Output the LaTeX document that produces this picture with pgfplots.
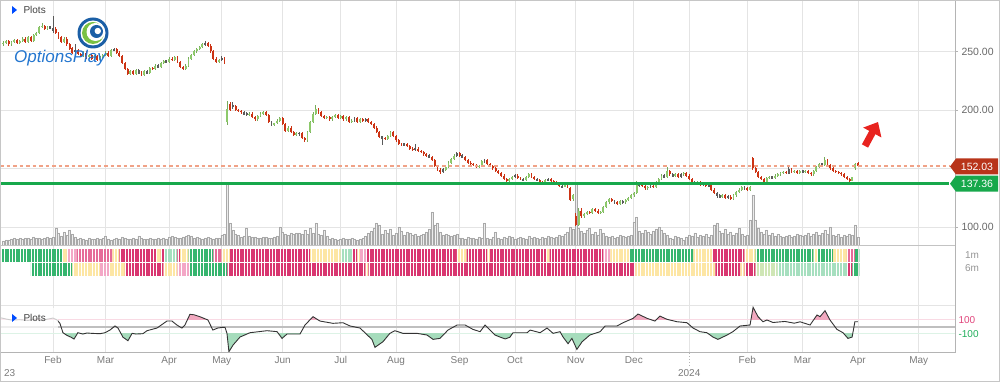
\documentclass[border=0pt]{standalone}
\usepackage{pgfplots}
\pgfplotsset{compat=1.18}
\usepackage{pgfplotstable}
\usetikzlibrary{patterns.meta,arrows.meta}
\usepackage{fontspec}
\setmainfont{Liberation Sans}
\definecolor{gridgray}{HTML}{E4E4E4}
\definecolor{axgray}{HTML}{B4B4B4}
\definecolor{labgray}{HTML}{7A7A7A}
\definecolor{upc}{HTML}{8DC96B}
\definecolor{dnc}{HTML}{CC3314}
\definecolor{djc}{HTML}{5A5A5A}
\definecolor{volfill}{HTML}{ECECEC}
\definecolor{volline}{HTML}{A9A9A9}
\definecolor{dashc}{HTML}{F0A287}
\definecolor{supc}{HTML}{17A84B}
\definecolor{redbox}{HTML}{B8341A}
\definecolor{sg}{HTML}{35B56E}
\definecolor{slg}{HTML}{A6DFBF}
\definecolor{sy}{HTML}{FDE6A4}
\definecolor{sp}{HTML}{F3A7C6}
\definecolor{sc}{HTML}{D93670}
\definecolor{sm}{HTML}{E66B98}
\definecolor{slgy}{HTML}{CFE6B5}
\definecolor{ccipink}{HTML}{F2A9C0}
\definecolor{ccigreen}{HTML}{A6DCBC}
\definecolor{cpink}{HTML}{E0457B}
\definecolor{cgreen}{HTML}{1FAE5A}
\definecolor{logoblue}{HTML}{1B5FA6}
\definecolor{logogreen}{HTML}{7AC143}
\definecolor{textblue}{HTML}{2476CF}
\definecolor{arrowred}{HTML}{E8231F}

\pgfplotstableread{
i o h l c k
-18 256 259 255 257 1
-17 257 260 256 259 1
-16 259 260 255 256 -1
-15 256 259 255 258 1
-14 258 261 257 260 1
-13 260 261 256 257 -1
-12 257 260 256 259 1
-11 259 262 258 261 1
-10 261 262 257 258 -1
-9 258 263 257 262 1
-8 262 263 258 259 -1
-7 259 265 258 264 1
-6 264 267 263 266 1
-5 266 272 265 271 1
-4 271 274 270 272 1
-3 272 273 268 269 -1
-2 269 272 268 271 1
-1 271 272 269 270 0
0 270 280 266 268 0
1 269 271 265 266 -1
2 266 267 261 262 -1
3 262 263 257 258 -1
4 258 262 257 261 1
5 261 262 255 256 -1
6 256 257 251 252 -1
7 253 254 248 249 -1
8 250 256 249 251 0
9 251 252 247 248 -1
10 248 249 245 246 -1
11 246 250 245 249 1
12 249 250 244 245 -1
13 245 248 244 247 1
14 247 248 243 244 -1
15 244 247 243 246 1
16 246 247 242 243 -1
17 243 246 242 245 1
18 245 248 244 247 1
19 247 250 246 249 1
20 249 250 245 246 -1
21 246 252 245 251 1
22 251 253 250 252 0
23 252 253 248 249 -1
24 249 250 245 246 -1
25 246 247 239 240 -1
26 240 241 234 235 -1
27 235 236 230 231 -1
28 231 234 230 233 1
29 233 234 230 231 -1
30 231 235 230 234 1
31 234 235 231 232 0
32 232 233 229 230 -1
33 230 234 229 233 1
34 233 234 231 232 0
35 232 237 231 236 1
36 236 237 234 235 -1
37 235 239 234 238 1
38 238 239 236 237 0
39 237 241 236 240 1
40 240 243 239 242 1
41 242 243 240 241 0
42 241 245 240 244 1
43 244 245 242 243 -1
44 243 246 242 245 1
45 245 246 240 241 -1
46 241 242 236 237 -1
47 237 238 234 235 -1
48 235 239 234 238 1
49 238 245 237 244 1
50 244 248 243 247 1
51 247 251 246 250 1
52 250 253 249 252 1
53 252 255 251 254 1
54 254 257 253 256 1
55 256 259 255 257 0
56 257 258 254 255 -1
57 255 256 249 250 -1
58 250 251 243 244 -1
59 244 245 240 241 -1
60 241 244 240 243 1
61 243 246 242 244 0
62 244 245 239 240 -1
63 189.5 208 187 201 1
64 205 207 199 200 -1
65 203 207 201 203.5 0
66 203 204 199 200 -1
67 200 201 198 199 -1
68 199 200 197 198 -1
69 198 199 196 197 0
70 197 198 195 196.5 0
71 196 198 195 197 1
72 197 198 193 194 -1
73 194 195 191 192 -1
74 192 196 191 195 1
75 195 198 194 197 1
76 197 199 196 198 1
77 198 199 195 196 -1
78 196 197 189 190 -1
79 190 191 186 187 0
80 187 189 186 188.5 1
81 188.5 192 188 191 1
82 191 194 190 193 1
83 193 194 187 188 -1
84 188 189 181 182 -1
85 182 186 181 185 1
86 185 186 180 181 -1
87 181 182 178 179 -1
88 179 181 178 180 1
89 180 181 178 180 0
90 180 181 175 176 -1
91 176 177 173 174 -1
92 174 182 173 181 1
93 181 191 180 190 1
94 190 198 189 197 1
95 197 204 196 201 1
96 201 202 197 198 -1
97 198 199 194 195 -1
98 195 196 192 193 -1
99 193 195 192 194 1
100 194 195 191 192 -1
101 192 195 191 194 1
102 194 197 193 196 1
103 196 197 192 193 -1
104 193 196 192 195 1
105 195 196 191 192 -1
106 192 195 191 194 1
107 194 195 189 190 -1
108 190 192 189 191 1
109 191 194 190 193 0
110 193 194 189 190 -1
111 190 193 189 192 1
112 192 193 190 191 -1
113 191 193 190 192 0
114 192 193 189 190 -1
115 190 191 187 188 -1
116 188 189 184 185 -1
117 185 186 180 181 -1
118 181 182 176 177 -1
119 177 178 170 176 0
120 176 177 174 175 -1
121 175 179 174 178 1
122 178 182 177 181 1
123 181 182 177 178 -1
124 178 179 173 174 -1
125 174 175 170 171 -1
126 171 172 169 170 -1
127 170 172 169 171 0
128 171 172 168 169 -1
129 169 170 166 167 -1
130 167 168 165 166 -1
131 166 171 165 167 0
132 167 168 164 165 -1
133 165 166 163 164 -1
134 164 165 161 162 -1
135 162 163 160 161 -1
136 161 162 159 160 0
137 160 161 156 157 -1
138 157 158 151 152 -1
139 152 153 148 149 -1
140 149 150 145 147 -1
141 147 150 146 149 0
142 149 152 148 151 1
143 151 156 150 155 1
144 155 159 154 158 1
145 158 162 157 161 1
146 161 164 160 163 0
147 163 164 160 161 -1
148 161 162 159 160 0
149 160 161 156 157 -1
150 157 158 154 155 -1
151 155 156 153 154 -1
152 154 155 152 153 -1
153 153 154 150 151 -1
154 151 153 150 152 1
155 152 157 151 156 1
156 156 158 155 157 0
157 157 158 153 154 -1
158 154 155 151 152 -1
159 152 153 149 150 -1
160 150 151 147 148 -1
161 148 149 145 146 -1
162 146 147 143 144 -1
163 144 145 140 141 -1
164 141 142 138 139 -1
165 139 142 138 141 1
166 141 144 140 143 1
167 143 145 142 144 0
168 144 145 141 142 -1
169 142 143 140 141 -1
170 141 142 139 140 0
171 140 144 139 143 1
172 143 146 142 145 1
173 145 146 142 143 -1
174 143 144 140 141 -1
175 141 142 139 140 0
176 140 141 137 138 -1
177 138 139 136 137 -1
178 137 141 136 140 1
179 140 142 139 141 0
180 141 142 138 139 -1
181 139 140 137 138 -1
182 138 139 136 137 -1
183 137 138 134 135 -1
184 135 137 134 134.5 0
185 134.5 137 134 136 1
186 136 137 133 134 -1
187 133 134 122 123 -1
188 124 128 122 127 1
189 109 112 100.5 102 -1
190 102 116 101 114 1
191 114 116 108 109 -1
192 109 112 108 111 1
193 111 114 110 113 1
194 113 114 111 112 -1
195 112 116 111 115 1
196 115 116 113 114 -1
197 114 115 111 112 -1
198 112 114 111 113 1
199 113 118 112 117 1
200 117 122 116 121 1
201 121 125 120 124 1
202 124 125 121 122 -1
203 122 123 120 121 0
204 121 122 119 120 -1
205 120 123 119 122 1
206 122 123 120 121 0
207 121 124 120 123 1
208 123 126 122 125 1
209 125 128 124 127 1
210 127 130 126 129 1
211 129 139 128 136 1
212 136 138 134 136 0
213 136 137 134 135 -1
214 135 136 132 133 -1
215 133 135 132 134 1
216 134 136 133 135 0
217 135 136 133 134 -1
218 134 139 133 138 1
219 138 142 137 141 1
220 141 145 140 144 1
221 144 145 142 143 0
222 143 151 142 148 1
223 148 149 144 145 -1
224 145 146 143 144 0
225 144 146 143 145 1
226 145 146 142 143 -1
227 143 146 142 145 0
228 145 147 144 146 1
229 146 147 143 144 -1
230 144 145 140 141 -1
231 141 142 137 138 -1
232 138 139 136 137 0
233 137 139 136 138 1
234 138 139 135 136 -1
235 136 138 135 137 0
236 137 138 134 135 -1
237 135 137 134 136 0
238 136 137 131 132 -1
239 132 133 128 129 -1
240 129 130 125 127 0
241 127 128 125 126 0
242 126 128 125 127 1
243 127 128 124 125 -1
244 125 127 124 126 0
245 126 127 123 124 -1
246 124 128 123 127 1
247 127 131 126 130 1
248 130 133 129 132 1
249 132 135 131 134 1
250 134 135 132 133 0
251 133 134 131 132 -1
252 132 135 131 134 1
253 159 160 149 150 -1
254 150 151 146 147 -1
255 147 148 142 143 -1
256 143 144 140 141 -1
257 141 142 137 138 -1
258 138 143 137 142 1
259 142 144 141 143 1
260 143 144 141 142 0
261 142 145 141 144 1
262 144 146 143 145 1
263 145 147 144 146 1
264 146 148 145 147 1
265 147 148 145 146 -1
266 146 151 145 149 0
267 149 150 146 147 -1
268 147 149 146 148 1
269 148 149 145 146 -1
270 146 149 145 148 1
271 148 149 146 147 0
272 147 149 146 148 1
273 148 149 145 146 -1
274 146 147 144 145 -1
275 145 149 144 148 1
276 148 152 147 151 1
277 151 155 150 154 1
278 154 155 152 153 0
279 153 160 152 157 1
280 157 158 152 153 -1
281 153 154 149 150 -1
282 150 151 147 148 -1
283 148 149 146 147 -1
284 147 148 145 146 -1
285 146 147 144 145 -1
286 145 146 142 143 -1
287 143 144 140 141 -1
288 141 142 138 139 -1
289 139.5 143 139 142.5 1
290 150 155 148.5 154 1
291 154.5 155.5 151.5 152.03 -1
}\candles

\pgfplotstableread{
x y
-19.2 130
-17 110
-15 95
-12 100
-9 90
-7 105
-5 115
-3.6 96
-1 115
0 124
1.5 95
2.5 48
3.6 -86
5.1 -125
6.5 -150
7.6 -176
9 -86
10.8 -105
12.3 -90
14 -95
17 -100
18.8 -86
20.6 -48
22.4 10
23.5 -19
25.3 -150
27.1 -200
28.6 -95
30 -105
32.5 -100
34 -57
37.6 -19
41.2 81
43 81
44.8 24
46.6 -19
47.7 24
49.5 177
51 170
53.1 143
56 96
57.8 -48
59.5 -20
61.1 -10
62.2 -10
62.9 -95
63.6 -357
65.1 -262
67.6 -148
71.2 -86
77.4 -57
81 -71
82.8 -167
84.6 -105
89.3 -105
91.1 24
94 143
96.5 81
101.2 48
104.8 57
107.4 10
111 -19
113.5 -114
115.3 -181
116.4 -295
119.3 -214
121.8 -95
123.6 -57
126.5 -95
131.6 -95
135.2 -119
137.4 -181
139.9 -167
142.8 -48
146.1 24
149 24
151.8 -38
154.4 -71
156.2 24
159.8 -119
161.6 -148
163.5 -175
165.2 -150
166.3 -86
169 -86
171.4 -86
172.5 -48
176.1 -86
178.6 -19
180.8 -95
183.3 -71
184.4 -148
186.2 -243
187.6 -167
189.4 -324
191.3 -214
194.1 -119
197.8 -71
199.6 10
203.9 10
206.1 57
209.7 119
211.5 181
214.8 119
217.6 81
219.4 152
222 105
225.6 71
229.2 57
231.4 -19
233.9 -71
236.4 -86
238.6 -148
240.4 -181
243.7 -119
245.8 -71
248.4 10
252 24
253.1 277
254.9 143
256.7 71
258.1 96
260.3 60
264.6 75
268 50
270.1 70
273.7 24
276.2 167
277.3 143
279.1 229
280.9 96
283.4 -38
285.6 -86
287.4 -167
288.9 -148
289.9 71
291 71
}\cci

\newcommand\stripA[3]{\addplot[draw=none, pattern={Lines[angle=90,distance=2.766pt,line width=2pt]}, pattern color=#3] coordinates {(#1,21) (#2,21) (#2,33) (#1,33)};}
\newcommand\stripB[3]{\addplot[draw=none, pattern={Lines[angle=90,distance=2.766pt,line width=2pt]}, pattern color=#3] coordinates {(#1,7) (#2,7) (#2,19) (#1,19)};}

\pgfplotsset{
  base/.style={scale only axis, width=955pt, xmin=-19.16, xmax=326.1, anchor=south west,
    axis line style={draw=none}, xtick={0,19,42,61,83,104,124,147,167,189,210,230,251,271,291,313},
    xticklabels={}, yticklabels={}, tick style={draw=none},
    grid style={draw=gridgray, line width=0.8pt},
    tick label style={font=\fontsize{10}{12}\selectfont, text=labgray}},
  wick/.style={draw=none, mark=none, error bars/.cd, y dir=both, y explicit, error mark=none,
    error bar style={draw=#1, line width=0.7pt}},
  body/.style={draw=none, mark=none, error bars/.cd, y dir=both, y explicit, error mark=none,
    error bar style={draw=#1, line width=1.9pt}},
}

\begin{document}
\begin{tikzpicture}[x=1pt,y=1pt]
\useasboundingbox (0,0) rectangle (1000,382);

% ---------- volume (with grid) ----------
\begin{axis}[base, at={(0pt,137pt)}, height=245pt, ymin=0, ymax=245,
  xmajorgrids, ymajorgrids, ytick={18,76.5,135,193.5}]
\addplot[ybar, bar width=2pt, bar shift=0pt, fill=volfill, draw=volline, line width=0.4pt] coordinates {
(-18,4)(-17,5)(-16,5)(-15,6)(-14,7)(-13,6)(-12,7)(-11,6)(-10,7)(-9,7)(-8,6)(-7,8)(-6,7)(-5,7)(-4,6)(-3,7)(-2,8)(-1,7)
(0,8)(1,17)(2,12)(3,9)(4,13)(5,10)(6,15)(7,11)(8,8)
(9,6)(10,7)(11,6)(12,5)(13,7)(14,6)(15,6)(16,7)(17,6)(18,7)(19,9)(20,6)(21,5)(22,6)(23,7)(24,6)(25,8)(26,7)(27,6)(28,6)(29,7)(30,6)(31,9)(32,7)(33,6)(34,6)(35,7)(36,6)(37,6)(38,7)(39,6)(40,7)(41,6)(42,8)(43,9)(44,8)(45,7)(46,7)(47,8)(48,9)(49,10)(50,9)(51,7)(52,8)(53,7)(54,6)(55,7)(56,8)(57,7)(58,6)(59,7)(60,7)
(61,10)(62,11)(63,62)(64,22)(65,15)(66,11)(67,10)(68,8)(69,9)(70,17)(71,9)(72,8)(73,8)(74,7)(75,7)(76,8)(77,8)(78,7)(79,7)(80,8)(81,9)(82,18)(83,13)(84,11)(85,10)(86,12)(87,11)(88,12)(89,12)(90,11)(91,15)(92,11)(93,17)(94,12)(95,22)(96,11)(97,10)(98,15)(99,9)
(100,6)(101,7)(102,6)(103,5)(104,6)(105,7)(106,6)(107,6)(108,7)(109,6)(110,5)(111,6)(112,7)(113,9)(114,12)(115,14)(116,17)(117,22)(118,20)(119,11)(120,15)(121,12)(122,16)(123,10)(124,12)(125,18)(126,14)(127,10)(128,13)(129,12)(130,10)(131,11)(132,9)(133,10)(134,11)(135,13)(136,16)(137,33)(138,20)(139,22)(140,13)(141,10)(142,11)(143,10)(144,9)(145,10)(146,11)
(147,7)(148,7)(149,6)(150,8)(151,7)(152,7)(153,6)(154,8)(155,7)(156,22)(157,7)(158,6)(159,8)(160,13)(161,7)(162,6)(163,8)(164,7)(165,9)(166,8)(167,6)(168,7)(169,8)(170,7)(171,6)(172,9)(173,7)(174,8)(175,7)(176,6)(177,8)(178,7)(179,9)(180,8)(181,7)(182,8)(183,10)(184,9)(185,11)
(186,13)(187,18)(188,16)(189,62)(190,17)(191,14)(192,12)(193,15)(194,17)(195,11)(196,13)(197,10)(198,16)(199,12)(200,9)(201,8)(202,9)(203,7)(204,8)(205,10)(206,9)(207,8)(208,9)(209,10)(210,23)(211,28)(212,14)(213,12)(214,15)(215,13)(216,11)(217,14)(218,16)(219,18)(220,15)(221,12)(222,10)(223,7)(224,6)(225,9)(226,8)(227,7)(228,5)(229,8)(230,10)(231,9)(232,12)(233,8)(234,10)(235,9)(236,11)(237,8)(238,10)(239,20)(240,22)(241,14)(242,12)(243,16)(244,11)(245,13)(246,10)(247,12)(248,17)(249,11)(250,9)(251,10)(252,25)(253,50)(254,25)(255,17)(256,13)(257,11)(258,15)(259,10)(260,12)(261,9)(262,11)(263,9)(264,8)(265,9)(266,10)(267,8)(268,9)(269,11)(270,10)(271,9)(272,10)(273,12)(274,9)(275,11)(276,13)(277,10)(278,12)(279,15)(280,11)(281,18)(282,10)(283,9)(284,11)(285,8)(286,10)(287,9)(288,11)(289,10)(290,20)(291,8)
};
\end{axis}

% ---------- price / candles ----------
\begin{axis}[base, at={(0pt,137pt)}, height=245pt, ymin=84.62, ymax=294.02,
  ytick={100,200,250}, yticklabels={100.00,200.00,250.00}, yticklabel pos=right, ytick pos=right,
  ytick style={draw=axgray, line width=0.6pt}, major tick length=3pt, tick align=outside,
  yticklabel style={font=\fontsize{10.5}{12}\selectfont, text=labgray!85!black}]
% wicks
\addplot[restrict expr to domain={\thisrow{k}}{0.5:1.5}, wick=upc!85!black]
  table[x=i, y=c, y error plus expr={\thisrow{h}-\thisrow{c}}, y error minus expr={\thisrow{c}-\thisrow{l}}] {\candles};
\addplot[restrict expr to domain={\thisrow{k}}{-1.5:-0.5}, wick=dnc]
  table[x=i, y=c, y error plus expr={\thisrow{h}-\thisrow{c}}, y error minus expr={\thisrow{c}-\thisrow{l}}] {\candles};
\addplot[restrict expr to domain={\thisrow{k}}{-0.5:0.5}, wick=djc]
  table[x=i, y=c, y error plus expr={\thisrow{h}-\thisrow{c}}, y error minus expr={\thisrow{c}-\thisrow{l}}] {\candles};
% bodies
\addplot[restrict expr to domain={\thisrow{k}}{0.5:1.5}, body=upc]
  table[x=i, y=c, y error plus expr={max(\thisrow{o}-\thisrow{c},0)}, y error minus expr={max(\thisrow{c}-\thisrow{o},0)}] {\candles};
\addplot[restrict expr to domain={\thisrow{k}}{-1.5:-0.5}, body=dnc]
  table[x=i, y=c, y error plus expr={max(\thisrow{o}-\thisrow{c},0)}, y error minus expr={max(\thisrow{c}-\thisrow{o},0)}] {\candles};
\addplot[restrict expr to domain={\thisrow{k}}{-0.5:0.5}, body=djc]
  table[x=i, y=c, y error plus expr={max(\thisrow{o}-\thisrow{c},0)+0.4}, y error minus expr={max(\thisrow{c}-\thisrow{o},0)+0.4}] {\candles};
% levels
\addplot[dashc, line width=1.3pt, dash pattern=on 3.5pt off 3pt] coordinates {(-19.16,152.03) (324,152.03)};
\addplot[supc, line width=2.8pt] coordinates {(-19.16,137.36) (324,137.36)};
\end{axis}

% ---------- 1m / 6m strips ----------
\begin{axis}[base, at={(0pt,99pt)}, height=38pt, ymin=0, ymax=38, xmajorgrids]
\stripA{-19.2}{3.5}{sg}\stripA{3.5}{5}{sy}\stripA{5}{8.5}{sp}\stripA{8.5}{21.5}{sm}\stripA{21.5}{24}{sy}
\stripA{24}{37.5}{sc}\stripA{37.5}{39}{sy}\stripA{39}{40.5}{sc}\stripA{40.5}{45}{slg}\stripA{45}{46}{sc}
\stripA{46}{49}{sy}\stripA{49}{58}{sg}\stripA{58}{61}{sm}\stripA{61}{64}{sy}\stripA{64}{93}{sc}
\stripA{93}{104}{sy}\stripA{104}{108.5}{slg}\stripA{108.5}{110}{sc}\stripA{110}{111}{sy}\stripA{111}{113.5}{sp}
\stripA{113.5}{146}{sc}\stripA{146}{149.5}{sy}\stripA{149.5}{157}{sc}\stripA{157}{158}{sy}\stripA{158}{178.5}{sc}
\stripA{178.5}{179.5}{sy}\stripA{179.5}{199}{sc}\stripA{199}{201.5}{sp}\stripA{201.5}{208.5}{sy}\stripA{208.5}{231.5}{sg}
\stripA{231.5}{238.5}{sy}\stripA{238.5}{250}{sc}\stripA{250}{254}{sy}\stripA{254}{275}{sg}\stripA{275}{276.5}{sy}
\stripA{276.5}{282}{sg}\stripA{282}{287}{sy}\stripA{287}{290}{sm}\stripA{290}{291.5}{sg}
\stripB{-8}{7}{sg}\stripB{7}{17}{sy}\stripB{17}{20.5}{sp}\stripB{20.5}{26}{sy}\stripB{26}{40}{sc}
\stripB{40}{45}{sy}\stripB{45}{49.5}{sp}\stripB{49.5}{63}{sg}\stripB{63}{113}{sc}\stripB{113}{114}{sy}
\stripB{114}{210.5}{sc}\stripB{210.5}{239.5}{sy}\stripB{239.5}{248.5}{sc}\stripB{248.5}{250}{sy}\stripB{250}{254}{sc}
\stripB{254}{262}{slgy}\stripB{262}{287.5}{slg}\stripB{287.5}{289}{sc}\stripB{289}{291.5}{sg}
\end{axis}

% ---------- CCI ----------
\begin{axis}[base, at={(0pt,29pt)}, height=70pt, ymin=-375.7, ymax=624.3, xmajorgrids,
  xticklabels={Feb,Mar,Apr,May,Jun,Jul,Aug,Sep,Oct,Nov,Dec,{},Feb,Mar,Apr,May},
  ytick={-100,100}, yticklabels={\textcolor{cgreen}{-100},\textcolor{cpink}{100}},
  yticklabel pos=right, ytick pos=right,
  yticklabel style={font=\fontsize{10}{12}\selectfont}]
\draw[gridgray, line width=0.8pt] (axis cs:-19.16,300) -- (axis cs:326.1,300);
\draw[cpink!20, line width=0.8pt] (axis cs:-19.16,100) -- (axis cs:326.1,100);
\draw[cgreen!15, line width=0.8pt] (axis cs:-19.16,-100) -- (axis cs:326.1,-100);
\begin{scope}
\clip (axis cs:-30,100) rectangle (axis cs:340,700);
\addplot[fill=ccipink, draw=none] table[x=x,y=y] {\cci} -- (axis cs:291,-800) -- (axis cs:-19.2,-800) -- cycle;
\end{scope}
\begin{scope}
\clip (axis cs:-30,-100) rectangle (axis cs:340,-700);
\addplot[fill=ccigreen, draw=none] table[x=x,y=y] {\cci} -- (axis cs:291,800) -- (axis cs:-19.2,800) -- cycle;
\end{scope}
\draw[axgray!85, line width=1.7pt] (axis cs:-19.16,0) -- (axis cs:326.1,0);
\addplot[color=black!80, line width=0.9pt] table[x=x,y=y] {\cci};
\end{axis}

% ---------- frame, axes lines, annotations ----------
\draw[axgray!80, line width=0.6pt] (0,137) -- (955,137);
\draw[axgray, line width=1pt] (955,29) -- (955,382);
\draw[axgray, line width=1pt] (0,29) -- (955,29);
\draw[axgray, line width=0.6pt, dash pattern=on 1.5pt off 1.5pt] (689.2,29) -- (689.2,16);
\node[font=\fontsize{10}{12}\selectfont, text=labgray] at (689.2,9) {2024};
\node[anchor=west, font=\fontsize{10}{12}\selectfont, text=labgray] at (0.5,9) {23};
\node[font=\fontsize{10}{12}\selectfont, text=labgray!80] at (972,127) {1m};
\node[font=\fontsize{10}{12}\selectfont, text=labgray!80] at (972,114) {6m};

% price labels
\fill[redbox] (950,215.5) -- (956,223.5) -- (998,223.5) -- (998,207.5) -- (956,207.5) -- cycle;
\node[text=white, font=\fontsize{10.5}{12}\selectfont] at (977,215.5) {152.03};
\fill[supc] (950,198.3) -- (956,206.3) -- (998,206.3) -- (998,190.3) -- (956,190.3) -- cycle;
\node[text=white, font=\fontsize{10.5}{12}\selectfont] at (977,198.3) {137.36};

% red arrow
\draw[arrowred, line width=7pt, -{Triangle[length=12pt,width=20pt]}] (865,236) -- (878,260);

% plots labels
\fill[blue!70!cyan] (12,368) -- (12,376) -- (17,372) -- cycle;
\node[anchor=west, font=\fontsize{10}{12}\selectfont, text=black!75] at (20,372) {Plots};
\fill[white, fill opacity=0.75] (0,54) rectangle (58,74);
\fill[blue!70!cyan] (12,60) -- (12,68) -- (17,64) -- cycle;
\node[anchor=west, font=\fontsize{10}{12}\selectfont, text=black!75] at (20,64) {Plots};

% logo
\fill[logoblue] (93,349) circle (15.5);
\fill[white] (93,349) circle (12.5);
\fill[logogreen] (93,349) circle (11);
\fill[white] (95.5,350) circle (9);
\fill[logoblue] (96.5,350.5) circle (6.5);
\fill[white] (97.8,351) circle (3.2);
\node[text=textblue, font=\fontsize{17}{17}\selectfont\itshape] at (60,324) {OptionsPlay};

\draw[gray!45, line width=1pt] (0.5,0.5) rectangle (999.5,381.5);
\end{tikzpicture}
\end{document}
